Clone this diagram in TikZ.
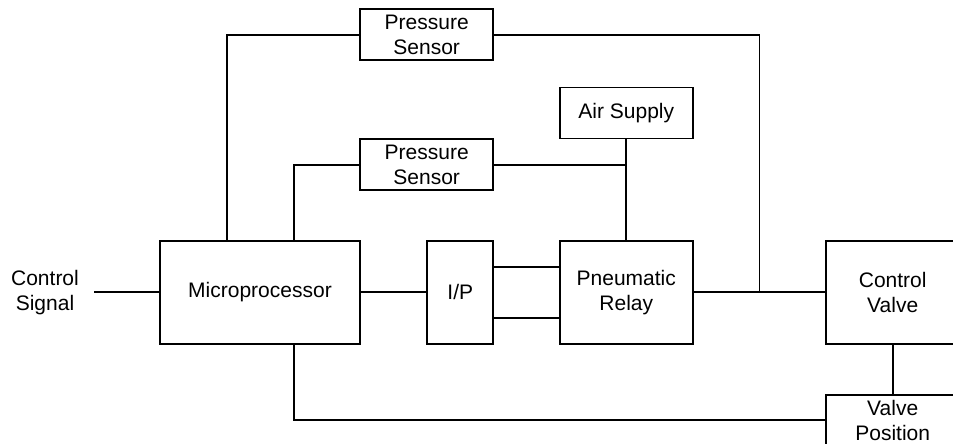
\documentclass[tikz,border=0pt]{standalone}
\usepackage{fontspec}
\setmainfont{Liberation Sans}
\usetikzlibrary{positioning, calc}

\begin{document}
\begin{tikzpicture}[
  x=0.5pt, y=-0.5pt,
  blk/.style={draw, line width=0.9pt, align=center, inner sep=0pt,
              font=\fontsize{10.5}{12.5}\selectfont},
  wide/.style={blk, minimum width=66.5pt, minimum height=51.5pt},
  slim/.style={blk, minimum width=66.5pt, minimum height=25.5pt},
  lbl/.style={align=center, inner xsep=7.5pt, font=\fontsize{10.5}{12.5}\selectfont},
  ln/.style={line width=0.9pt}
]
  \useasboundingbox (0,0) rectangle (953,444);
  \clip (0,0) rectangle (953,444);

  % Main row
  \node[lbl] (sig) at (45,292.2) {Control\\Signal};
  \node[blk, minimum width=100pt, minimum height=51.5pt] (mp) at (260,292.2) {Microprocessor};
  \node[blk, minimum width=33pt, minimum height=51.5pt] (ip) at (460.3,292.2) {I/P};
  \node[wide] (relay) at (626.3,292.2) {Pneumatic\\Relay};
  \node[wide] (cv) at (892.7,292.2) {Control\\Valve};

  % Sensors and supply
  \node[slim] (ps1) at (426.7,34.8) {Pressure\\Sensor};
  \node[slim] (ps2) at (426.7,164.7) {Pressure\\Sensor};
  \node[slim] (air) at (626.3,113) {Air Supply};
  \node[slim] (vp) at (892.7,420.2) {Valve\\Position};

  % Junction on the relay output
  \coordinate (jn) at ($(relay.east)!0.5!(cv.west)$);

  % Signal path
  \draw[ln] (sig.east) -- (mp.west);
  \draw[ln] (mp.east) -- (ip.west);
  \draw[ln] ($(ip.east)+(0,-25.5)$) -- ($(relay.west)+(0,-25.5)$);
  \draw[ln] ($(ip.east)+(0,25.5)$) -- ($(relay.west)+(0,25.5)$);
  \draw[ln] (relay.east) -- (cv.west);

  % Feedback lines
  \draw[ln] ($(mp.north)+(-33,0)$) |- (ps1.west);
  \draw[ln] (ps1.east) -| (jn);
  \draw[ln] ($(mp.north)+(34,0)$) |- (ps2.west);
  \draw[ln] (ps2.east) -- (ps2.east -| air.south);
  \draw[ln] (air.south) -- (relay.north);
  \draw[ln] (cv.south) -- (vp.north);
  \draw[ln] ($(mp.south)+(34,0)$) |- (vp.west);

\end{tikzpicture}
\end{document}
